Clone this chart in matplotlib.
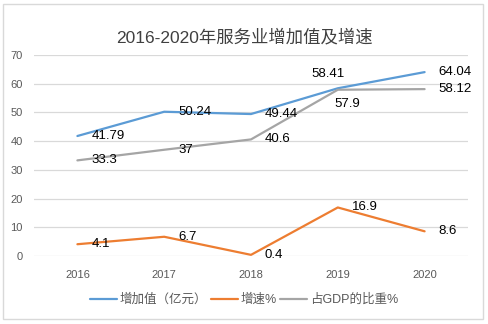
import matplotlib
matplotlib.use("Agg")
import matplotlib.pyplot as plt
from matplotlib.patches import Rectangle

plt.rcParams['font.family'] = ['Liberation Sans', 'Noto Sans CJK SC', 'DejaVu Sans']

years = ["2016", "2017", "2018", "2019", "2020"]
added_value = [41.79, 50.24, 49.44, 58.41, 64.04]
growth_rate = [4.1, 6.7, 0.4, 16.9, 8.6]
gdp_share = [33.3, 37, 40.6, 57.9, 58.12]
y_ticks = [0, 10, 20, 30, 40, 50, 60, 70]

series = [
    ("增加值（亿元）", added_value, "#5B9BD5"),
    ("增速%", growth_rate, "#ED7D31"),
    ("占GDP的比重%", gdp_share, "#A5A5A5"),
]

fig = plt.figure(figsize=(4.88, 3.24), dpi=100)
ax = fig.add_axes([34 / 488, 1 - 256 / 324, 434 / 488, 201 / 324])

# light frame around the whole chart
fig.patches.append(Rectangle((3 / 488, 5 / 324), 480 / 488, 315 / 324,
                             transform=fig.transFigure, fill=False,
                             edgecolor="#D9D9D9", linewidth=1.0))

x = list(range(len(years)))
for name, vals, color in series:
    ax.plot(x, vals, color=color, linewidth=1.6, label=name,
            solid_capstyle="round", zorder=3)

label_kw = dict(fontsize=9.5, color="#000000", zorder=4)
for vals, special in [(added_value, {3: "above"}),
                      (growth_rate, {}),
                      (gdp_share, {3: "below"})]:
    for i, v in enumerate(vals):
        txt = f"{v:g}"
        pos = special.get(i, "right")
        if pos == "right":
            ax.annotate(txt, (i, v), xytext=(10, 0), textcoords="offset points",
                        ha="left", va="center", **label_kw)
        elif pos == "above":
            ax.annotate(txt, (i, v), xytext=(-7, 6), textcoords="offset points",
                        ha="center", va="bottom", **label_kw)
        else:
            ax.annotate(txt, (i, v), xytext=(7, -6), textcoords="offset points",
                        ha="center", va="top", **label_kw)

ax.set_xlim(-0.5, len(years) - 0.5)
ax.set_ylim(0, 70)
ax.set_yticks(y_ticks)
ax.set_xticks(x)
ax.set_xticklabels(years)
ax.grid(axis="y", color="#D9D9D9", linewidth=0.9, zorder=0)
ax.set_axisbelow(True)
for s in ax.spines.values():
    s.set_visible(False)
ax.tick_params(axis="both", length=0, labelsize=8, colors="#595959")
ax.tick_params(axis="y", pad=8)
ax.tick_params(axis="x", pad=10)

fig.text(0.5, 1 - 37 / 324, "2016-2020年服务业增加值及增速", ha="center",
         va="center", fontsize=12.5, color="#404040")

handles, labels = ax.get_legend_handles_labels()
fig.legend(handles, labels, loc="center", bbox_to_anchor=(0.5, 1 - 300 / 324),
           ncol=3, frameon=False, fontsize=9, handlelength=2.2,
           columnspacing=0.25, handletextpad=0.2, labelcolor="#595959")

fig.savefig("out.png", dpi=100)
